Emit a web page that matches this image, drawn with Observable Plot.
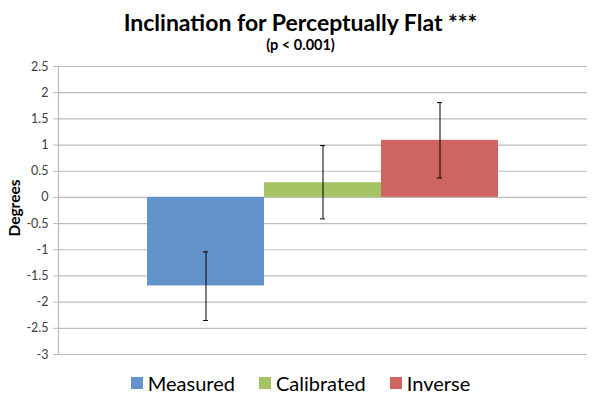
<!DOCTYPE html>
<html>
<head>
<meta charset="utf-8">
<script src="https://cdn.jsdelivr.net/npm/d3@7"></script>
<script src="https://cdn.jsdelivr.net/npm/@observablehq/plot@0.6"></script>
<style>
  html, body { margin: 0; padding: 0; background: #fff; }
  body { width: 601px; height: 406px; overflow: hidden; font-family: Lato, "Open Sans", sans-serif; color: #000; }
  #title { position: absolute; top: 7px; left: 0; width: 601px; text-align: center; font-weight: bold; font-size: 23px; line-height: 30px; }
  #subtitle { position: absolute; top: 36px; left: 0; width: 601px; text-align: center; font-weight: bold; font-size: 14.5px; line-height: 18px; }
  #chart { position: absolute; top: 56px; left: 0; }
  #legend { position: absolute; top: 369px; left: 0; width: 601px; display: flex; justify-content: center; gap: 24px; font-size: 20px; line-height: 28px; }
  #legend .item { display: flex; align-items: center; gap: 5px; }
  #legend .sw { width: 12px; height: 12px; display: inline-block; }
</style>
</head>
<body>
<div id="title">Inclination for Perceptually Flat ***</div>
<div id="subtitle">(p &lt; 0.001)</div>
<div id="chart"></div>
<div id="legend"></div>
<script>
// Data
const series = ["Measured", "Calibrated", "Inverse"];
const values = [-1.69, 0.28, 1.09];
const errLow = [-2.35, -0.41, 0.37];
const errHigh = [-1.04, 0.99, 1.81];
const colors = ["#6293CB", "#A3C365", "#CF6560"];
const yTicks = [2.5, 2, 1.5, 1, 0.5, 0, -0.5, -1, -1.5, -2, -2.5, -3];

const data = series.map((s, i) => ({series: s, value: values[i], low: errLow[i], high: errHigh[i]}));

const chart = Plot.plot({
  width: 601,
  height: 306,
  marginTop: 10,
  marginBottom: 8,
  marginLeft: 58,
  marginRight: 14,
  style: {fontFamily: "Lato, 'Open Sans', sans-serif", fontSize: "12px", color: "#404040", background: "transparent"},
  x: {domain: series, paddingInner: 0, paddingOuter: 0.75, axis: null},
  y: {domain: [-3, 2.5], ticks: yTicks, tickFormat: d => String(d), label: null, grid: false},
  color: {domain: series, range: colors},
  marks: [
    Plot.ruleY(yTicks, {stroke: "#BBBBBB", strokeWidth: 1.2}),
    Plot.axisY({ticks: yTicks, tickFormat: d => String(d), tickSize: 5, tickPadding: 5, stroke: "#BBBBBB", label: null, fontSize: 12.5}),
    Plot.frame({anchor: "left", stroke: "#BBBBBB", strokeWidth: 1.2}),
    Plot.barY(data, {x: "series", y: "value", fill: "series"}),
    Plot.ruleX(data, {x: "series", y1: "low", y2: "high", stroke: "#000", strokeWidth: 1}),
    Plot.tickY(data, {x: "series", y: "low", stroke: "#000", strokeWidth: 1, insetLeft: 56, insetRight: 56}),
    Plot.tickY(data, {x: "series", y: "high", stroke: "#000", strokeWidth: 1, insetLeft: 56, insetRight: 56})
  ]
});
document.getElementById("chart").appendChild(chart);

// Y-axis title "Degrees"
const svg = d3.select(chart);
svg.append("text")
  .attr("transform", "translate(20,152) rotate(-90)")
  .attr("text-anchor", "middle")
  .attr("font-weight", "bold")
  .attr("font-size", 15.5)
  .attr("fill", "#000")
  .text("Degrees");

// Legend
const legend = d3.select("#legend");
series.forEach((s, i) => {
  const item = legend.append("div").attr("class", "item");
  item.append("span").attr("class", "sw").style("background", colors[i]);
  item.append("span").text(s);
});
</script>
</body>
</html>
